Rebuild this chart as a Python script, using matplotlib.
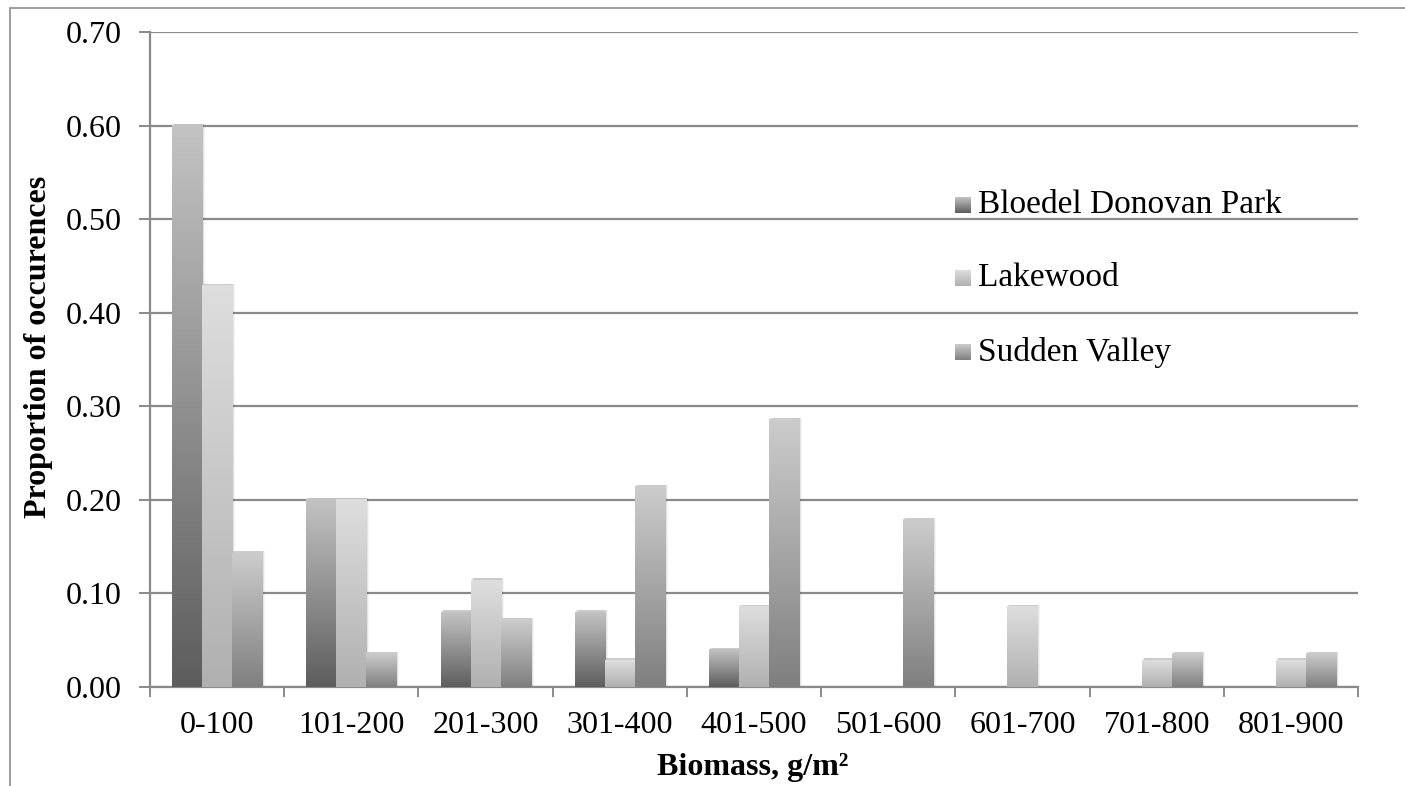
import numpy as np
import matplotlib
matplotlib.use("Agg")
import matplotlib.pyplot as plt
from matplotlib.colors import LinearSegmentedColormap
from matplotlib.patches import Rectangle

categories = ["0-100", "101-200", "201-300", "301-400", "401-500",
              "501-600", "601-700", "701-800", "801-900"]
series_names = ["Bloedel Donovan Park", "Lakewood", "Sudden Valley"]
bloedel = [0.60, 0.20, 0.08, 0.08, 0.04, 0.0, 0.0, 0.0, 0.0]
lakewood = [0.4286, 0.20, 0.1143, 0.0286, 0.0857, 0.0, 0.0857, 0.0286, 0.0286]
sudden_valley = [0.1429, 0.0357, 0.0714, 0.2143, 0.2857, 0.1786, 0.0, 0.0357, 0.0357]
y_ticks = [0.0, 0.1, 0.2, 0.3, 0.4, 0.5, 0.6, 0.7]

series = [bloedel, lakewood, sudden_valley]
# (top colour, bottom colour) of each series' vertical gradient
gradients = [("#c3c3c3", "#5d5d5d"), ("#dedede", "#b0b0b0"), ("#cccccc", "#7f7f7f")]

plt.rcParams["font.family"] = ["Liberation Serif", "DejaVu Serif"]
W, H, DPI = 1405, 786, 100
FS = 23
fig = plt.figure(figsize=(W / DPI, H / DPI), dpi=DPI)

# outer chart frame
fig.patches.append(Rectangle((10 / W, -0.1), 1.2, 1 - 8 / H + 0.1,
                             transform=fig.transFigure, fill=False,
                             edgecolor="#8c8c8c", linewidth=1.2))

L, R, T, B = 150, 1358, 32, 687
ax = fig.add_axes([L / W, 1 - B / H, (R - L) / W, (B - T) / H])

grid_col = "#8a8a8a"
ax.set_xlim(-0.5, len(categories) - 0.5)
ax.set_ylim(0, 0.70)
ax.set_yticks(y_ticks)
ax.set_yticklabels([f"{v:.2f}" for v in y_ticks], fontsize=FS)
ax.yaxis.grid(True, color=grid_col, linewidth=1.6, zorder=0)
ax.set_axisbelow(True)
for s in ["top", "right"]:
    ax.spines[s].set_visible(False)
for s in ["left", "bottom"]:
    ax.spines[s].set_color(grid_col)
    ax.spines[s].set_linewidth(1.6)
ax.tick_params(axis="y", length=8, width=1.4, color=grid_col, pad=12.5)

# category boundaries as ticks, names centred between them
ax.set_xticks(np.arange(-0.5, len(categories)), minor=False)
ax.set_xticklabels([])
ax.tick_params(axis="x", which="major", length=7, width=1.4, color=grid_col)
ax.set_xticks(np.arange(len(categories)), minor=True)
ax.set_xticklabels(categories, minor=True, fontsize=FS)
ax.tick_params(axis="x", which="minor", length=0, pad=17)

fig.text(753 / W, 1 - 768 / H, "Biomass, g/m²", fontsize=FS, fontweight="bold",
         ha="center", va="center")
fig.text(39 / W, 1 - 347 / H, "Proportion of occurences", fontsize=FS,
         fontweight="bold", rotation=90, ha="center", va="center")

bw = 0.2236
ramp = np.linspace(0, 1, 256).reshape(-1, 1)
cmaps = [LinearSegmentedColormap.from_list(n, [bot, top])
         for n, (top, bot) in zip(series_names, gradients)]
px = (len(categories)) / (R - L)  # data units per pixel on x

for k, vals in enumerate(series):
    for i, v in enumerate(vals):
        if v <= 0:
            continue
        x0 = i + (k - 1) * bw - bw / 2
        # soft drop shadow on the right side
        for j, a in enumerate([0.10, 0.07, 0.04]):
            ax.add_patch(Rectangle((x0 + (1 + j) * px, 0), bw, v + 0.002,
                                   facecolor="black", alpha=a,
                                   linewidth=0, zorder=2))
        ax.imshow(ramp, cmap=cmaps[k], origin="lower", aspect="auto",
                  extent=[x0, x0 + bw, 0, v], interpolation="bilinear",
                  zorder=3)
ax.set_xlim(-0.5, len(categories) - 0.5)
ax.set_ylim(0, 0.70)

# legend with gradient swatches
leg_x, sw = 955, 16
leg_rows = [205, 278, 352]
for k, (name, yc) in enumerate(zip(series_names, leg_rows)):
    sax = fig.add_axes([leg_x / W, 1 - (yc + sw / 2) / H, sw / W, sw / H])
    sax.imshow(ramp, cmap=cmaps[k], origin="lower", aspect="auto",
               extent=[0, 1, 0, 1], interpolation="bilinear")
    sax.set_axis_off()
    fig.text((leg_x + sw + 7) / W, 1 - yc / H, name, fontsize=24,
             va="center", ha="left")

fig.savefig("out.png", dpi=DPI)
